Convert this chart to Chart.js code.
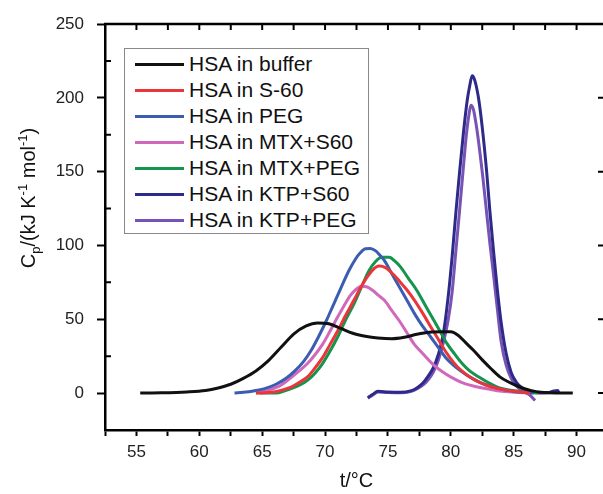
<!DOCTYPE html>
<html>
<head>
<meta charset="utf-8">
<script src="https://cdn.jsdelivr.net/npm/chart.js"></script>
<style>
  html, body { margin: 0; padding: 0; background: #fff; overflow: hidden; }
  #wrap { position: relative; width: 614px; height: 494px; }
  #legend { position: absolute; left: 124px; top: 48px; width: 243px; height: 184px; border: 1px solid #888; background: #fff; font-family: "Liberation Sans", Arial, sans-serif; }
  .item { position: absolute; left: 0; width: 100%; height: 26px; }
  .item i { position: absolute; left: 10px; top: 12px; width: 49px; height: 3px; }
  .item span { position: absolute; left: 64px; top: 0; font-size: 21px; line-height: 26px; white-space: nowrap; color: #111; }
</style>
</head>
<body>
<div id="wrap">
  <canvas id="dsc" width="614" height="494"></canvas>
  <div id="legend"></div>
</div>
<script>
// series names (legend order)
const seriesNames = ['HSA in buffer', 'HSA in S-60', 'HSA in PEG', 'HSA in MTX+S60', 'HSA in MTX+PEG', 'HSA in KTP+S60', 'HSA in KTP+PEG'];

// temperature (°C) and Cp (kJ K-1 mol-1)
const tBuffer = [55.3, 57, 59, 60.5, 61.5, 62.5, 63.5, 64.5, 65.5, 66.5, 67.5, 68.5, 69.4, 70.3, 71.2, 72.2, 73.2, 74.2, 75.3, 76.3, 77.3, 78.3, 79.3, 80.0, 80.6, 81.2, 81.8, 82.5, 83.2, 83.9, 84.6, 85.3, 86.0, 86.8, 87.8, 89.7];
const cpBuffer = [0, 0.2, 0.8, 1.8, 3.5, 6, 10, 15, 22, 31, 40, 45.5, 47.5, 47, 44, 40.5, 38.5, 37.3, 36.8, 37.8, 39.8, 41.2, 41.5, 41.5, 39, 34, 29, 22.5, 16.5, 11, 7.5, 4.8, 2.6, 1, 0.3, 0];

const tS60 = [64.5, 65.5, 66.5, 67.3, 68.0, 68.6, 69.2, 69.8, 70.4, 71.0, 71.6, 72.3, 72.8, 73.3, 73.8, 74.3, 74.8, 75.3, 75.9, 76.5, 77.1, 77.7, 78.4, 79.0, 79.6, 80.2, 80.8, 81.4, 82.0, 82.8, 83.6, 84.4, 85.1, 86.3];
const cpS60 = [0, 0.4, 1.8, 4, 7.5, 11, 17, 24, 33, 42, 52, 63, 71, 78, 83.5, 86, 85, 81.5, 76, 70, 63, 55, 45, 36.5, 28, 21, 15.5, 11.5, 8.5, 5.5, 3.5, 2, 1.2, 0];

const tPEG = [62.8, 63.5, 64.3, 65.2, 66.1, 66.9, 67.6, 68.3, 68.9, 69.5, 70.1, 70.7, 71.3, 71.9, 72.4, 72.8, 73.2, 73.6, 74.0, 74.4, 74.7, 75.3, 75.9, 76.5, 77.1, 77.7, 78.4, 79.0, 79.6, 80.2, 80.8, 81.6, 82.4, 83.2, 83.9, 84.7, 85.4, 86.6];
const cpPEG = [0, 0.5, 1.4, 3, 6, 10, 15, 21.5, 29, 38.5, 49, 60.5, 72, 83, 90.5, 95, 97.8, 98, 96.5, 93, 90, 81, 72, 63, 54, 46, 38, 31, 24, 19, 15, 10.5, 7, 4.5, 3, 1.5, 0.7, 0];

const tMtxS60 = [64.5, 65.5, 66.3, 67.0, 67.8, 68.6, 69.2, 69.8, 70.4, 71.0, 71.5, 72.0, 72.5, 72.9, 73.3, 73.8, 74.2, 74.7, 75.3, 75.9, 76.5, 77.1, 77.8, 78.4, 79.0, 79.6, 80.2, 80.8, 81.6, 82.4, 83.2, 83.9, 85.0, 86.3];
const cpMtxS60 = [0, 2, 4.5, 8.5, 14, 20, 26, 33, 42, 51.5, 59, 66, 70.5, 72.3, 72, 69.5, 66.5, 63, 56, 49, 41, 33, 26.5, 21, 16.5, 13, 10, 7.5, 5.2, 3.6, 2.4, 1.4, 0.6, 0];

const tMtxPEG = [64.8, 66.1, 66.8, 67.3, 68.0, 68.6, 69.2, 69.8, 70.4, 71.0, 71.6, 72.3, 72.9, 73.5, 74.0, 74.5, 75.1, 75.6, 76.0, 76.6, 77.3, 77.9, 78.5, 79.1, 79.7, 80.3, 80.9, 81.5, 82.2, 82.9, 83.7, 84.4, 85.2, 86.0, 86.9];
const cpMtxPEG = [0, 0, 1.5, 3, 5.5, 8.6, 13.5, 20, 28.5, 38, 49, 60.5, 72, 83, 89, 92, 92, 89, 85.5, 78, 69.5, 60.5, 51.5, 42.5, 33.5, 26.5, 20, 15, 11, 7.5, 4, 2.5, 1.4, 0.6, 0];

const tKtpS60 = [73.4, 73.8, 74.2, 75.0, 76.0, 76.8, 77.3, 77.8, 78.2, 78.6, 79.0, 79.4, 79.8, 80.1, 80.4, 80.7, 81.0, 81.3, 81.5, 81.7, 81.9, 82.2, 82.5, 82.85, 83.1, 83.4, 83.7, 84.0, 84.4, 84.8, 85.2, 85.6, 86.0, 86.5, 87.1, 87.8, 88.2, 88.5, 88.6];
const cpKtpS60 = [-3, -0.8, 1.2, 0.8, 0.6, 1.5, 3.5, 7, 11.5, 17, 26, 40, 66, 92, 122, 150, 176, 198, 208, 215, 212, 200, 180, 150, 124, 96, 70, 48, 27, 14, 7.5, 4, 2, 0.7, 0, 0.3, 1.5, 1.8, 0.3];

const tKtpPEG = [73.4, 73.8, 74.2, 75.0, 76.0, 76.8, 77.3, 77.8, 78.2, 78.6, 79.0, 79.4, 79.8, 80.1, 80.4, 80.7, 81.0, 81.25, 81.45, 81.6, 81.8, 82.05, 82.3, 82.55, 82.8, 83.1, 83.4, 83.7, 84.0, 84.4, 84.8, 85.2, 85.6, 86.0, 86.3, 86.7];
const cpKtpPEG = [-3.5, -1.2, 0.8, 0.4, 0.2, 1, 2.8, 5.5, 9, 14, 22, 34, 50, 68, 96, 124, 153, 176, 189, 195, 192, 180, 164, 146, 126, 102, 80, 57, 35, 19, 10, 5, 2, 0, -1.5, -5];

// axis ranges / ticks
const xMin = 52.5, xMax = 92.5, xStep = 2.5;
const yMin = -25, yMax = 250, yStep = 25;

const seriesT = [tBuffer, tS60, tPEG, tMtxS60, tMtxPEG, tKtpS60, tKtpPEG];
const seriesCp = [cpBuffer, cpS60, cpPEG, cpMtxS60, cpMtxPEG, cpKtpS60, cpKtpPEG];
const colors = ['#111111', '#e8363a', '#3b5cb0', '#d068bb', '#14944c', '#2d2a8a', '#7852b4'];

const FONT = '"Liberation Sans", Arial, sans-serif';

const datasets = seriesNames.map((name, i) => ({
  label: name,
  data: seriesT[i].map((t, j) => ({ x: t, y: seriesCp[i][j] })),
  borderColor: colors[i],
  backgroundColor: colors[i],
  borderWidth: 3,
  pointRadius: 0,
  cubicInterpolationMode: 'monotone',
  fill: false
}));

const isMajor = (v, step) => Math.abs(v / step - Math.round(v / step)) < 1e-6;

// top/right frame, inward ticks, y title with sub/superscripts
const framePlugin = {
  id: 'frame',
  afterDraw(chart) {
    const { ctx, chartArea: a, scales: { x, y } } = chart;
    ctx.save();
    ctx.strokeStyle = '#000';
    ctx.lineWidth = 2.5;
    ctx.beginPath();
    ctx.moveTo(a.left - 1, a.top);
    ctx.lineTo(a.right, a.top);
    ctx.lineTo(a.right, a.bottom);
    ctx.stroke();

    ctx.lineWidth = 2;
    ctx.beginPath();
    x.ticks.forEach(t => {
      const px = x.getPixelForValue(t.value);
      ctx.moveTo(px, a.top);
      ctx.lineTo(px, a.top + 6);
    });
    y.ticks.forEach(t => {
      const py = y.getPixelForValue(t.value);
      const major = isMajor(t.value, 50);
      ctx.moveTo(a.right, py);
      ctx.lineTo(a.right - (major ? 10 : 4), py);
      if (!major) {
        ctx.moveTo(a.left, py);
        ctx.lineTo(a.left + 6, py);
      }
    });
    ctx.stroke();

    // y axis title
    const parts = [
      ['C', 20, 0], ['p', 13, 5], ['/(kJ K', 20, 0], ['-1', 13, -8],
      [' mol', 20, 0], ['-1', 13, -8], [')', 20, 0]
    ];
    let w = 0;
    parts.forEach(p => { ctx.font = p[1] + 'px ' + FONT; w += ctx.measureText(p[0]).width; });
    ctx.translate(35, 198);
    ctx.rotate(-Math.PI / 2);
    ctx.fillStyle = '#111';
    ctx.textBaseline = 'alphabetic';
    let cx = -w / 2;
    parts.forEach(p => {
      ctx.font = p[1] + 'px ' + FONT;
      ctx.fillText(p[0], cx, p[2]);
      cx += ctx.measureText(p[0]).width;
    });
    ctx.restore();
  }
};

new Chart(document.getElementById('dsc'), {
  type: 'line',
  data: { datasets },
  options: {
    responsive: false,
    devicePixelRatio: 1,
    animation: false,
    events: [],
    layout: { padding: { top: 24, right: 6, left: 0, bottom: 0 } },
    plugins: { legend: { display: false }, tooltip: { enabled: false } },
    scales: {
      x: {
        type: 'linear',
        min: xMin,
        max: xMax,
        afterFit: s => { s.height = 64; },
        ticks: {
          stepSize: xStep,
          autoSkip: false,
          maxRotation: 0,
          padding: 6,
          color: '#222',
          font: { family: FONT, size: 17 },
          callback: v => isMajor(v, 5) ? v : ''
        },
        grid: { drawOnChartArea: false, tickLength: 6, tickWidth: 2, tickColor: '#000' },
        border: { color: '#000', width: 2.5 },
        title: { display: true, text: 't/°C', color: '#111', font: { family: FONT, size: 20 }, padding: { top: 0, bottom: 1 } }
      },
      y: {
        min: yMin,
        max: yMax,
        afterFit: s => { s.width = 105; },
        ticks: {
          stepSize: yStep,
          padding: 13,
          color: '#222',
          font: { family: FONT, size: 17 },
          callback: v => isMajor(v, 50) ? v : ''
        },
        grid: {
          drawOnChartArea: false,
          tickLength: 8,
          tickWidth: 2,
          tickColor: c => (c.tick && isMajor(c.tick.value, 50)) ? '#000' : 'rgba(0,0,0,0)'
        },
        border: { color: '#000', width: 2.5 }
      }
    }
  },
  plugins: [framePlugin]
});

// legend box
const legend = document.getElementById('legend');
seriesNames.forEach((name, i) => {
  const row = document.createElement('div');
  row.className = 'item';
  row.style.top = (2 + i * 26) + 'px';
  row.innerHTML = '<i style="background:' + colors[i] + '"></i><span>' + name + '</span>';
  legend.appendChild(row);
});
</script>
</body>
</html>
